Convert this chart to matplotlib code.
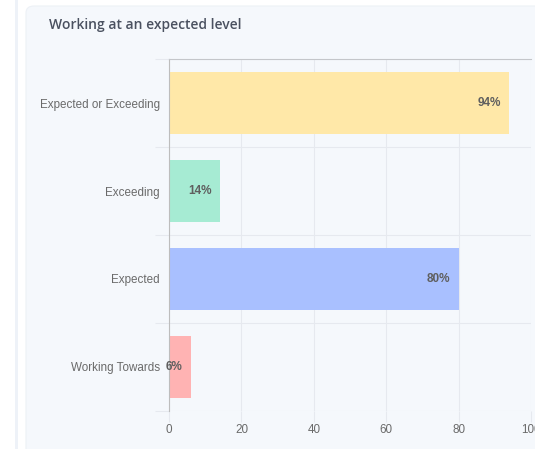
import matplotlib.pyplot as plt
from matplotlib.patches import FancyBboxPatch, Rectangle
from matplotlib.ticker import FixedLocator

categories = ["Expected or Exceeding", "Exceeding", "Expected", "Working Towards"]
values = [94, 14, 80, 6]
labels = ["94%", "14%", "80%", "6%"]
colors = ["#FFE8A8", "#A6EBD3", "#A9C0FF", "#FFB3B3"]
xticks = [0, 20, 40, 60, 80, 100]

W, H = 535, 449
fig = plt.figure(figsize=(W / 100, H / 100), dpi=100)
fig.patch.set_facecolor("white")

# card background and the thin strip on the left
fig.patches.append(Rectangle((15 / W, 0), 3 / W, 1, transform=fig.transFigure,
                             facecolor="#EEF2F8", edgecolor="none", zorder=-2))
fig.patches.append(FancyBboxPatch((26 / W, -0.05), 0.99, (H - 6) / H + 0.05,
                                  boxstyle="round,pad=0,rounding_size=0.015",
                                  transform=fig.transFigure, facecolor="#F5F8FC",
                                  edgecolor="#EDF1F6", linewidth=0.8, zorder=-2))

fig.text(49 / W, 1 - 25 / H, "Working at an expected level", fontsize=10,
         family="Open Sans", fontweight="semibold", color="#4A5160",
         va="center", ha="left")

ax = fig.add_axes([169 / W, 38 / H, 362 / W, 352 / H])
ax.set_facecolor("none")

y = list(range(len(categories)))
ax.barh(y, values, height=0.7, color=colors, zorder=2)
for yi, v, lab in zip(y, values, labels):
    ax.annotate(lab, (v, yi), xytext=(-6, 0), textcoords="offset points",
                ha="right", va="center", fontsize=8.5, fontweight="bold",
                color="#5F5F5F", family="Liberation Sans", zorder=3)

ax.set_xlim(0, 100)
ax.set_ylim(len(categories) - 0.5, -0.5)

ax.set_yticks(y)
ax.set_yticklabels(categories, family="Liberation Sans", fontsize=8.4, color="#6A6A6A")
ax.yaxis.set_minor_locator(FixedLocator([i - 0.5 for i in range(len(categories) + 1)]))
ax.tick_params(axis="y", which="major", length=0, pad=6.5)
ax.tick_params(axis="y", which="minor", length=10, color="#E6E9EF", width=0.8)

ax.set_xticks(xticks)
ax.set_xticklabels([str(t) for t in xticks], family="Liberation Sans", fontsize=8.4,
                   color="#6A6A6A")
ax.tick_params(axis="x", length=8, color="#E6E9EF", width=0.8, pad=1.5)

ax.grid(True, axis="x", color="#E6E9EF", linewidth=0.8, zorder=0)
ax.grid(True, axis="y", which="minor", color="#E6E9EF", linewidth=0.8, zorder=0)

for s in ["right", "bottom"]:
    ax.spines[s].set_visible(False)
ax.spines["top"].set_color("#C4C6CA")
ax.spines["top"].set_linewidth(0.8)
ax.spines["left"].set_color("#BDBDBD")
ax.spines["left"].set_linewidth(0.8)
ax.spines["left"].set_bounds(len(categories) - 0.5, -0.5)
ax.set_axisbelow(True)

fig.savefig("out.png", dpi=100)
